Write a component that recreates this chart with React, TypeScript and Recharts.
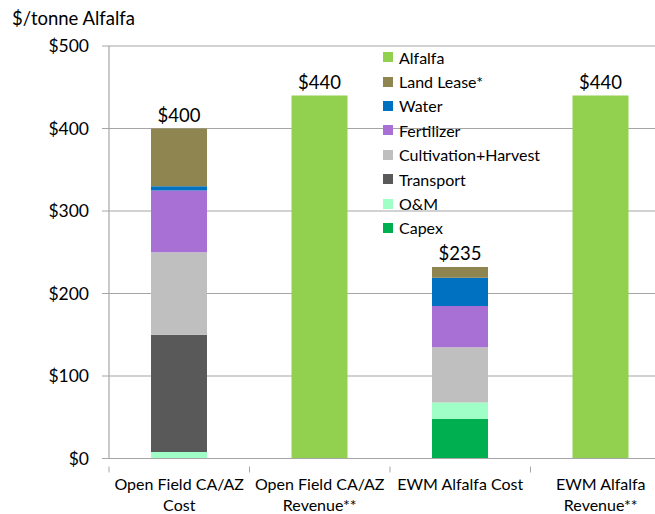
import React from 'react';
import { BarChart, Bar, XAxis, YAxis, CartesianGrid, LabelList } from 'recharts';

const categories = ['Open Field CA/AZ Cost', 'Open Field CA/AZ Revenue**', 'EWM Alfalfa Cost', 'EWM Alfalfa Revenue**'];
const categoryLines = [
  ['Open Field CA/AZ', 'Cost'],
  ['Open Field CA/AZ', 'Revenue**'],
  ['EWM Alfalfa Cost'],
  ['EWM Alfalfa', 'Revenue**'],
];

const capex = [0, 0, 48, 0];
const oam = [8, 0, 20, 0];
const transport = [142, 0, 0, 0];
const cultivation = [100, 0, 67, 0];
const fertilizer = [75, 0, 50, 0];
const water = [5, 0, 34, 0];
const landLease = [70, 0, 13, 0];
const alfalfa = [0, 440, 0, 440];
const totalLabels = ['$400', '$440', '$235', '$440'];
const yTicks = [0, 100, 200, 300, 400, 500];

// stacked bottom -> top
const series = [
  { key: 'capex', name: 'Capex', values: capex, color: '#00B050' },
  { key: 'oam', name: 'O&M', values: oam, color: '#A0FFC6' },
  { key: 'transport', name: 'Transport', values: transport, color: '#595959' },
  { key: 'cultivation', name: 'Cultivation+Harvest', values: cultivation, color: '#BFBFBF' },
  { key: 'fertilizer', name: 'Fertilizer', values: fertilizer, color: '#A86FD4' },
  { key: 'water', name: 'Water', values: water, color: '#0070C0' },
  { key: 'landLease', name: 'Land Lease*', values: landLease, color: '#8F8550' },
  { key: 'alfalfa', name: 'Alfalfa', values: alfalfa, color: '#92D050' },
];

// the total sits on whichever series is the top of each stack
const data = categories.map((c, i) => {
  const row: Record<string, string | number> = { name: c };
  series.forEach(s => { row[s.key] = s.values[i]; });
  row.landLeaseTotal = landLease[i] ? totalLabels[i] : '';
  row.alfalfaTotal = alfalfa[i] ? totalLabels[i] : '';
  return row;
});

const FONT = 'Lato, "Open Sans", sans-serif';
const CHART_W = 680;
const CHART_H = 514;
const LEFT = 109;
const RIGHT = 9;
const BAND = (CHART_W - LEFT - RIGHT) / categories.length;

const CategoryTick = (props: any) => {
  const { x, y, index } = props;
  const lines = categoryLines[index] || [];
  return (
    <g>
      <line x1={x - BAND / 2} x2={x - BAND / 2} y1={y} y2={y + 6} stroke="#A6A6A6" />
      <text x={x} y={y + 23} textAnchor="middle" fontSize={16} fill="#000" fontFamily={FONT}>
        {lines.map((l, i) => (
          <tspan key={i} x={x} dy={i === 0 ? 0 : 21}>{l}</tspan>
        ))}
      </text>
    </g>
  );
};

const TotalLabel = (props: any) => {
  const { x, y, width, value } = props;
  if (!value) return null;
  return (
    <text x={x + width / 2} y={y - 7} textAnchor="middle" fontSize={18.5} fill="#000" fontFamily={FONT}>
      {value}
    </text>
  );
};

const LegendBox = () => (
  <div style={{ position: 'absolute', left: 383, top: 45, fontFamily: FONT, fontSize: 16, color: '#000' }}>
    {[...series].reverse().map(s => (
      <div key={s.key} style={{ display: 'flex', alignItems: 'center', height: 24.4 }}>
        <span style={{ width: 10, height: 10, background: s.color, marginRight: 6, display: 'inline-block' }} />
        <span>{s.name}</span>
      </div>
    ))}
  </div>
);

export default function App() {
  return (
    <div style={{ position: 'absolute', left: 0, top: 0, width: 655, height: 514, overflow: 'hidden', background: '#fff' }}>
      <BarChart width={CHART_W} height={CHART_H} data={data} barSize={56}
        margin={{ top: 46, right: RIGHT, left: 0, bottom: 0 }}>
        <CartesianGrid vertical={false} stroke="#A6A6A6" strokeWidth={1.2} />
        <XAxis dataKey="name" height={55.5} interval={0} axisLine={{ stroke: '#A6A6A6', strokeWidth: 1.2 }}
          tickLine={false} tick={<CategoryTick />} />
        <YAxis width={LEFT} domain={[0, 500]} ticks={yTicks} interval={0}
          axisLine={{ stroke: '#A6A6A6', strokeWidth: 1.2 }} tickLine={{ stroke: '#A6A6A6' }} tickSize={7}
          tickMargin={13} tickFormatter={(v: number) => `$${v}`}
          tick={{ fontSize: 17.5, fill: '#000', fontFamily: FONT }} />
        {series.map(s => (
          <Bar key={s.key} dataKey={s.key} name={s.name} stackId="a" fill={s.color} isAnimationActive={false}>
            {s.key === 'landLease' && <LabelList dataKey="landLeaseTotal" content={TotalLabel} />}
            {s.key === 'alfalfa' && <LabelList dataKey="alfalfaTotal" content={TotalLabel} />}
          </Bar>
        ))}
      </BarChart>
      <div style={{ position: 'absolute', left: 12, top: 7, fontFamily: FONT, fontSize: 18.5, color: '#000' }}>$/tonne Alfalfa</div>
      <LegendBox />
    </div>
  );
}
